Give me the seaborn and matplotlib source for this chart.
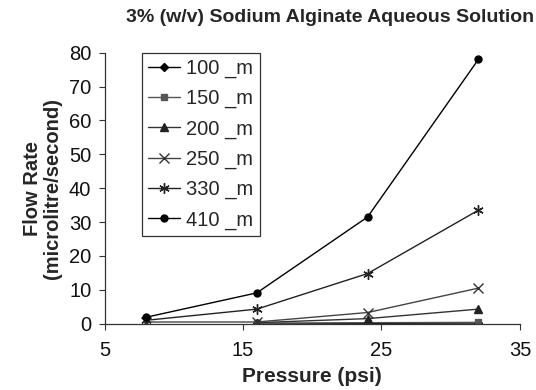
import pandas as pd
import seaborn as sns
import matplotlib.pyplot as plt

# Data
pressure = [8, 16, 24, 32]
series_labels = ['100 _m', '150 _m', '200 _m', '250 _m', '330 _m', '410 _m']
flow_100 = [None, 0.1, 0.1, 0.2]
flow_150 = [None, 0.1, 0.3, 0.4]
flow_200 = [None, 0.3, 1.5, 4.3]
flow_250 = [0.5, 0.5, 3.3, 10.5]
flow_330 = [1.0, 4.3, 14.8, 33.5]
flow_410 = [1.9, 9.1, 31.5, 78.0]

x_ticks = [5, 15, 25, 35]
y_ticks = [0, 10, 20, 30, 40, 50, 60, 70, 80]

all_flows = [flow_100, flow_150, flow_200, flow_250, flow_330, flow_410]
rows = []
for lab, vals in zip(series_labels, all_flows):
    for p, v in zip(pressure, vals):
        if v is not None:
            rows.append({'Pressure': p, 'Flow': v, 'Size': lab})
df = pd.DataFrame(rows)

sns.set_theme(style='ticks')
plt.rcParams['font.family'] = ['Liberation Sans', 'DejaVu Sans']

styles = {
    '100 _m': dict(marker='D', color='black', ms=4, mfc='black', mec='black'),
    '150 _m': dict(marker='s', color='#555555', ms=4.5, mfc='#555555', mec='#555555'),
    '200 _m': dict(marker='^', color='#333333', ms=5.5, mfc='#222222', mec='#222222'),
    '250 _m': dict(marker='x', color='#444444', ms=6.5, mfc='none', mec='#333333'),
    '330 _m': dict(marker=(6, 2, 0), color='#222222', ms=7.5, mfc='none', mec='#222222'),
    '410 _m': dict(marker='o', color='black', ms=5, mfc='black', mec='black'),
}

fig, ax = plt.subplots(figsize=(5.36, 3.9), dpi=100)
for lab in series_labels:
    st = styles[lab]
    sub = df[df['Size'] == lab]
    sns.lineplot(data=sub, x='Pressure', y='Flow', ax=ax, label=lab,
                 color=st['color'], marker=st['marker'], markersize=st['ms'],
                 markerfacecolor=st['mfc'], markeredgecolor=st['mec'],
                 markeredgewidth=1.0, linewidth=1.0)

ax.set_xlim(5, 35)
ax.set_ylim(0, 80)
ax.set_xticks(x_ticks)
ax.set_yticks(y_ticks)
ax.tick_params(axis='both', labelsize=14.5, length=4.5, width=0.8, color='#333333',
               direction='out', labelcolor='#111111')
ax.tick_params(axis='x', pad=8)
ax.tick_params(axis='y', pad=5)
for s in ['top', 'right']:
    ax.spines[s].set_visible(False)
for s in ['left', 'bottom']:
    ax.spines[s].set_color('#333333')
    ax.spines[s].set_linewidth(0.9)

ax.set_xlabel('Pressure (psi)', fontsize=15, fontweight='bold', labelpad=5)
ax.set_ylabel('Flow Rate\n(microlitre/second)', fontsize=14.5, fontweight='bold',
              labelpad=5, linespacing=1.1)
fig.suptitle('3% (w/v) Sodium Alginate Aqueous Solution', fontsize=14,
             fontweight='bold', x=0.616, y=0.978)

leg = ax.legend(loc='upper left', bbox_to_anchor=(0.09, 1.0), fontsize=14.5,
                frameon=True, fancybox=False, framealpha=1, edgecolor='#333333',
                handlelength=1.6, handletextpad=0.3, labelspacing=0.55,
                borderpad=0.3, borderaxespad=0.0)
leg.get_frame().set_linewidth(0.9)

fig.subplots_adjust(left=0.195, right=0.97, top=0.865, bottom=0.17)
fig.savefig('out.png', dpi=100)
